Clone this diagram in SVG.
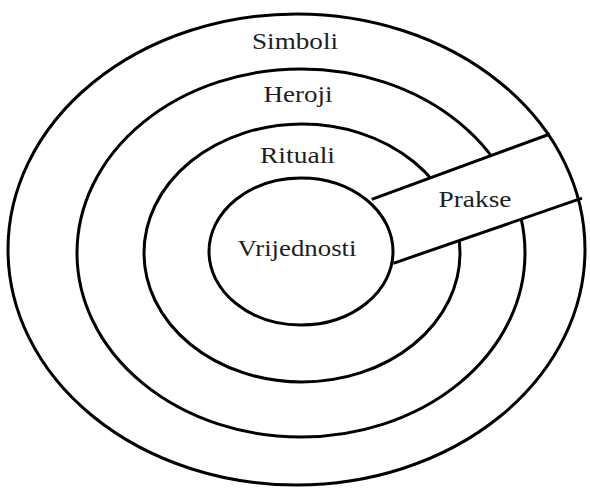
<svg xmlns="http://www.w3.org/2000/svg" width="590" height="488" viewBox="0 0 590 488">
<style>
.ring{fill:none;stroke:#000;stroke-width:3}
.lbl{font-family:"Liberation Serif","Times New Roman",serif;font-size:23px;fill:#1e1e1e;text-anchor:middle}
</style>
<rect width="590" height="488" fill="#fff"/>
<g id="heroji">
<ellipse class="ring" cx="301" cy="253" rx="224" ry="184"/>
<text class="lbl" x="298" y="102" textLength="69" lengthAdjust="spacingAndGlyphs">Heroji</text>
</g>
<g id="rituali">
<ellipse class="ring" cx="302" cy="253" rx="158" ry="129"/>
<text class="lbl" x="297.5" y="163" textLength="75" lengthAdjust="spacingAndGlyphs">Rituali</text>
</g>
<g id="prakse">
<polygon points="371.7,199.3 560,130.5 595,193.5 393.3,263.3" fill="#fff"/>
<text class="lbl" x="475" y="207" textLength="73" lengthAdjust="spacingAndGlyphs">Prakse</text>
</g>
<g id="connectors">
<line class="ring" x1="371.7" y1="199.3" x2="550" y2="134"/>
<line class="ring" x1="393.3" y1="263.3" x2="582" y2="198.2"/>
</g>
<g id="simboli">
<ellipse class="ring" cx="296.5" cy="249.5" rx="288.5" ry="235.5"/>
<text class="lbl" x="295" y="49" textLength="86" lengthAdjust="spacingAndGlyphs">Simboli</text>
</g>
<g id="vrijednosti">
<ellipse class="ring" cx="301" cy="251.5" rx="92" ry="73.5"/>
<text class="lbl" x="297" y="256" textLength="119" lengthAdjust="spacingAndGlyphs">Vrijednosti</text>
</g>
</svg>
